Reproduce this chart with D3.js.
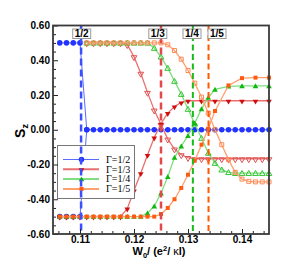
<!DOCTYPE html>
<html>
<head>
<meta charset="utf-8">
<script src="https://cdn.jsdelivr.net/npm/d3@7"></script>
<style>
  body { margin: 0; background: #fff; }
  svg { display: block; }
</style>
</head>
<body>
<div id="chart"></div>
<script>
// W0 grid (e^2/kl)
const w0 = [0.10625, 0.1075, 0.10875, 0.11, 0.11125, 0.1125, 0.11375, 0.115, 0.11625, 0.1175,
            0.11875, 0.12, 0.12125, 0.1225, 0.12375, 0.125, 0.12625, 0.1275, 0.12875, 0.13,
            0.13125, 0.1325, 0.13375, 0.135, 0.13625, 0.1375, 0.13875, 0.14, 0.14125, 0.1425,
            0.14375, 0.145]

// Gamma = 1/2
const blueUp = [0.5, 0.5, 0.5, 0.5, 0, 0, 0, 0, 0, 0, 0, 0, 0, 0, 0, 0, 0, 0, 0, 0,
                0, 0, 0, 0, 0, 0, 0, 0, 0, 0, 0, 0]
const blueDown = [-0.5, -0.5, -0.5, -0.5, 0, null, null, null, null, null, null, null, null, null, null, null,
                  null, null, null, null, null, null, null, null, null, null, null, null, null, null, null, null]
// Gamma = 1/3
const redFilled = [-0.5, -0.5, -0.5, -0.5, -0.5, -0.5, -0.5, -0.5, -0.5, -0.5,
                   -0.454, -0.35, -0.25, -0.145, -0.045, 0.035, 0.096, 0.134, 0.157, 0.167,
                   null, 0.167, null, 0.167, null, 0.167, null, 0.167, null, 0.167, null, 0.167]
const redOpen = [null, null, null, null, 0.5, 0.5, 0.5, 0.5, 0.5, 0.5,
                 0.49, 0.42, 0.325, 0.215, 0.113, 0.03, -0.054, -0.111, -0.144, -0.16,
                 -0.167, -0.167, -0.167, -0.167, -0.167, -0.167, -0.167, -0.167, -0.167, -0.167, -0.167, -0.167]
// Gamma = 1/4
const greenFilled = [-0.5, -0.5, -0.5, -0.5, -0.5, -0.5, -0.5, -0.5, -0.5, -0.5, -0.5, -0.5, -0.5,
                     -0.48, -0.44, -0.365, -0.27, -0.16, -0.095, -0.034, 0.038, 0.12, 0.185, 0.232,
                     null, 0.25, null, 0.252, null, 0.252, null, 0.252]
const greenOpen = [null, null, null, null, 0.5, 0.5, 0.5, 0.5, 0.5, 0.5, 0.5, 0.5, 0.5, 0.5,
                   0.47, 0.42, 0.355, 0.28, 0.205, 0.119, 0.035, -0.048, -0.134, -0.192, -0.23, -0.245,
                   -0.25, -0.25, -0.25, -0.25, -0.25, -0.25]
// Gamma = 1/5
const orangeFilled = [-0.5, -0.5, -0.5, -0.5, -0.5, -0.5, -0.5, -0.5, -0.5, -0.5, -0.5, -0.5, -0.5, -0.5, -0.5,
                      -0.485, -0.45, -0.40, -0.335, -0.259, -0.178, -0.086, 0.006, 0.108,
                      null, 0.255, null, 0.297, null, 0.30, null, 0.30]
const orangeOpen = [null, null, null, null, 0.5, 0.5, 0.5, 0.5, 0.5, 0.5, 0.5, 0.5, 0.5, 0.5, 0.5, 0.5,
                    0.489, 0.456, 0.406, 0.341, 0.268, 0.188, 0.096, 0.0, -0.086, -0.172, -0.245, -0.284,
                    -0.297, -0.3, -0.3, -0.3]

// transition markers
const transLabels = ["1/2", "1/3", "1/4", "1/5"]
const transX = [0.1102, 0.125, 0.1309, 0.1338]
const transLabelX = [0.11032, 0.12441, 0.13074, 0.13537]

const legendLabels = ["\u0393=1/2", "\u0393=1/3", "\u0393=1/4", "\u0393=1/5"]
const xTicks = [0.11, 0.12, 0.13, 0.14]
const yTicks = [-0.6, -0.4, -0.2, 0, 0.2, 0.4, 0.6]

const width = 291, height = 273
const margin = {left: 53, right: 22, top: 25.5, bottom: 39}

const svg = d3.select("#chart").append("svg")
    .attr("width", width)
    .attr("height", height)

const x = d3.scaleLinear().domain([0.105, 0.145]).range([margin.left, width - margin.right])
const y = d3.scaleLinear().domain([-0.6, 0.6]).range([height - margin.bottom, margin.top])

// colours per gamma
const styles = [
    {line: "#5a6bff", fill: "#2233ff", open: "#2233ff", shape: "circle", dash: "#3b4fff", dw: 2.5, da: "7,4"},
    {line: "#ea7070", fill: "#d01010", open: "#e05050", shape: "down", dash: "#e04a4a", dw: 2.5, da: "7,4"},
    {line: "#80de80", fill: "#10b810", open: "#30c430", shape: "up", dash: "#19bb19", dw: 2, da: "6,3.5"},
    {line: "#ffa070", fill: "#ff5a10", open: "#ff8a55", shape: "square", dash: "#ff5a00", dw: 2, da: "6,3.5"}
]

function symbolPath(shape) {
    if (shape == "circle") return d3.symbol(d3.symbolCircle, 24)()
    if (shape == "square") return d3.symbol(d3.symbolSquare, 16)()
    return d3.symbol(d3.symbolTriangle, 14)()
}
function symbolTransform(shape, px, py) {
    if (shape == "down") return "translate(" + px + "," + (py + 0.6) + ") rotate(180)"
    if (shape == "up") return "translate(" + px + "," + (py + 0.6) + ")"
    return "translate(" + px + "," + py + ")"
}

const series = [
    {vals: blueUp, s: 0, open: false},
    {vals: blueDown, s: 0, open: false},
    {vals: redOpen, s: 1, open: true},
    {vals: redFilled, s: 1, open: false},
    {vals: greenOpen, s: 2, open: true},
    {vals: greenFilled, s: 2, open: false},
    {vals: orangeOpen, s: 3, open: true},
    {vals: orangeFilled, s: 3, open: false}
]

const line = d3.line().x(d => x(d[0])).y(d => y(d[1]))

const plot = svg.append("g")
series.forEach(function(ser) {
    const st = styles[ser.s]
    const pts = []
    for (let i = 0; i < w0.length; i++) {
        if (ser.vals[i] !== null) pts.push([w0[i], ser.vals[i]])
    }
    plot.append("path")
        .attr("d", line(pts))
        .attr("fill", "none")
        .attr("stroke", st.line)
        .attr("stroke-width", ser.s == 0 ? 1 : 1.3)

    plot.selectAll(null).data(pts).enter().append("path")
        .attr("d", symbolPath(st.shape))
        .attr("transform", d => symbolTransform(st.shape, x(d[0]), y(d[1])))
        .attr("fill", ser.open ? "#fff" : st.fill)
        .attr("fill-opacity", ser.open ? 0 : 1)
        .attr("stroke", ser.open ? st.open : "none")
        .attr("stroke-width", 1)
})

// legend
const lg = svg.append("g")
lg.append("rect")
    .attr("x", 57.5).attr("y", 145.5).attr("width", 77).attr("height", 53)
    .attr("fill", "#fff").attr("stroke", "#777").attr("stroke-width", 1)
legendLabels.forEach(function(lab, i) {
    const st = styles[i]
    const ly = 159.5 + i * 9.8
    lg.append("line")
        .attr("x1", 63).attr("x2", 99).attr("y1", ly).attr("y2", ly)
        .attr("stroke", st.line).attr("stroke-width", i == 0 ? 1 : 2)
    lg.append("path")
        .attr("d", symbolPath(st.shape))
        .attr("transform", symbolTransform(st.shape, 81.5, ly))
        .attr("fill", st.fill)
    lg.append("text")
        .attr("x", 106).attr("y", ly + 3.3)
        .attr("font-family", "Liberation Serif, Times New Roman, serif")
        .attr("font-size", 10)
        .attr("fill", "#000")
        .text(lab)
})

// dashed transition lines and their labels
transX.forEach(function(tx, i) {
    const st = styles[i]
    svg.append("line")
        .attr("x1", x(tx)).attr("x2", x(tx))
        .attr("y1", y(0.6)).attr("y2", y(-0.6))
        .attr("stroke", st.dash).attr("stroke-width", st.dw)
        .attr("stroke-dasharray", st.da)
})
transLabels.forEach(function(lab, i) {
    const cx = x(transLabelX[i])
    svg.append("rect")
        .attr("x", cx - 9).attr("y", 29)
        .attr("width", 18).attr("height", 9.5)
        .attr("fill", "#fff").attr("stroke", "#999").attr("stroke-width", 1)
    svg.append("text")
        .attr("x", cx).attr("y", 37)
        .attr("text-anchor", "middle")
        .attr("font-family", "Liberation Sans, Arial, sans-serif")
        .attr("font-weight", "bold").attr("font-size", 10)
        .text(lab)
})

// axes
const fmt = d => d.toFixed(2).replace("\u2212", "-")
const xMinor = d3.range(0.106, 0.1451, 0.002).filter(v => xTicks.every(t => Math.abs(t - v) > 1e-6))
const yMinor = d3.range(-0.55, 0.6, 0.05).filter(v => yTicks.every(t => Math.abs(t - v) > 1e-6))

svg.append("g")
    .attr("transform", "translate(0," + y(-0.6) + ")")
    .call(d3.axisBottom(x).tickValues(xTicks).tickSize(-5).tickPadding(2).tickFormat(fmt))
svg.append("g")
    .attr("transform", "translate(0," + y(-0.6) + ")")
    .call(d3.axisBottom(x).tickValues(xMinor).tickSize(-3).tickFormat(""))
svg.append("g")
    .attr("transform", "translate(" + x(0.105) + ",0)")
    .call(d3.axisLeft(y).tickValues(yTicks).tickSize(-5).tickPadding(3).tickFormat(fmt))
svg.append("g")
    .attr("transform", "translate(" + x(0.105) + ",0)")
    .call(d3.axisLeft(y).tickValues(yMinor).tickSize(-3).tickFormat(""))

svg.selectAll(".domain").remove()
svg.selectAll(".tick line").attr("stroke", "#222").attr("stroke-width", 1)
svg.selectAll(".tick text")
    .attr("font-family", "Liberation Sans, Arial, sans-serif")
    .attr("font-weight", "bold")
    .attr("font-size", 10)
    .attr("fill", "#000")

// frame
svg.append("rect")
    .attr("x", x(0.105)).attr("y", y(0.6))
    .attr("width", x(0.145) - x(0.105)).attr("height", y(-0.6) - y(0.6))
    .attr("fill", "none").attr("stroke", "#3a3a3a").attr("stroke-width", 1.8)

// axis titles
const xt = svg.append("text")
    .attr("x", 159).attr("y", 255)
    .attr("text-anchor", "middle")
    .attr("font-family", "Liberation Sans, Arial, sans-serif")
    .attr("font-weight", "bold").attr("font-size", 11)
xt.append("tspan").text("W")
xt.append("tspan").attr("dy", 2.5).attr("font-size", 7.5).text("0")
xt.append("tspan").attr("dy", -2.5).text("/ (e")
xt.append("tspan").attr("dy", -4).attr("font-size", 7.5).text("2")
xt.append("tspan").attr("dy", 4).text("/ ")
xt.append("tspan").attr("font-weight", "normal").text("\u03ba")
xt.append("tspan").text("l)")

const yt = svg.append("text")
    .attr("transform", "translate(25,131) rotate(-90)")
    .attr("text-anchor", "middle")
    .attr("font-family", "Liberation Sans, Arial, sans-serif")
    .attr("font-weight", "bold").attr("font-size", 14)
yt.append("tspan").text("S")
yt.append("tspan").attr("dy", 3).attr("font-size", 9).text("z")
</script>
</body>
</html>
